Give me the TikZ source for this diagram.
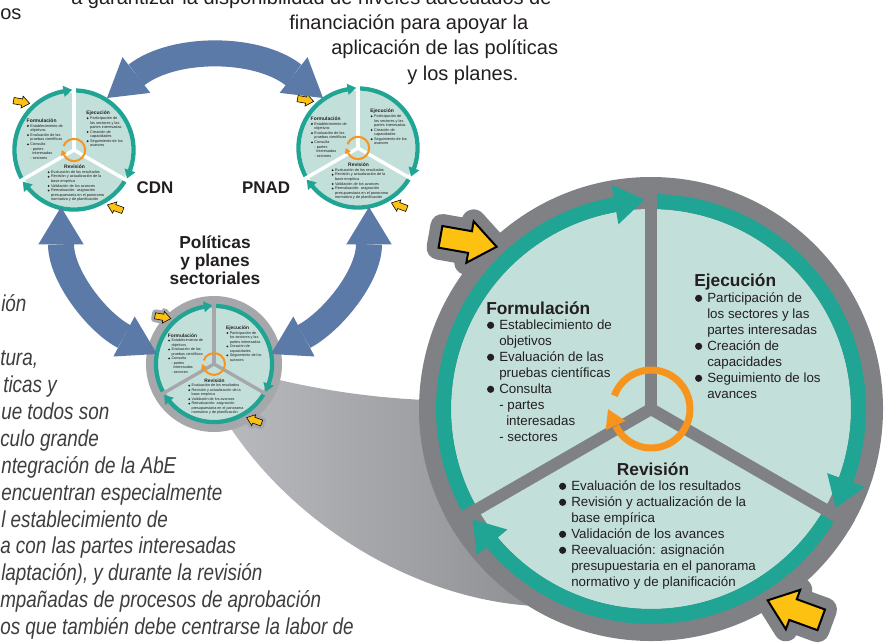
\documentclass[tikz,border=0pt]{standalone}
\usepackage{fontspec}
\setmainfont{Liberation Sans}
\newfontfamily\condit[FakeStretch=0.82]{Liberation Sans}
\usetikzlibrary{calc,arrows.meta}
\definecolor{tealA}{RGB}{32,164,148}
\definecolor{lfill}{RGB}{195,223,217}
\definecolor{grayA}{RGB}{128,129,133}
\definecolor{grayB}{RGB}{166,167,171}
\definecolor{coneL}{RGB}{186,187,191}
\definecolor{orng}{RGB}{247,148,29}
\definecolor{yel}{RGB}{253,193,18}
\definecolor{blu}{RGB}{92,122,168}
\definecolor{txtc}{RGB}{35,31,32}
\definecolor{itc}{RGB}{62,62,64}
\tikzset{
  wtxt/.style={inner sep=0pt, anchor=base west, text=txtc, font=\fontsize{10}{12}\selectfont},
  wttl/.style={wtxt, font=\bfseries\fontsize{13}{15}\selectfont},
  ital/.style={inner sep=0pt, anchor=base west, text=itc, font=\condit\itshape\fontsize{17.25}{20}\selectfont},
  toptxt/.style={inner sep=0pt, anchor=base west, text=txtc, font=\fontsize{15}{18}\selectfont},
  lbl/.style={inner sep=0pt, anchor=base, text=txtc, font=\bfseries\fontsize{13}{15}\selectfont},
  barrow/.style={draw=blu, line width=19.5pt,
    arrows={Triangle[width=34pt,length=28pt,line width=0pt]-Triangle[width=34pt,length=28pt,line width=0pt]}},
}
\newcommand\wtitle[4]{\node[wttl] (#1) at (#2,#3) {#4};}
\newcommand\wbul[4]{\fill[txtc] (#2+3.6,#3+4.2) circle (3.6);\node[wtxt] (#1) at (#2+12,#3) {#4};}
\newcommand\wcont[4]{\node[wtxt] (#1) at (#2+12,#3) {#4};}
\newcommand\wsub[4]{\node[wtxt] (#1) at (#2+19,#3) {#4};}
\tikzset{
 pics/wheel/.style n args={4}{code={
  \foreach \p/\r/\a in {137.5/247.5/-10,-54.5/247/160}
    \path[fill=#4, draw=#4, line width=24*#3, line join=round, shift={(\p:\r)}, rotate=\a]
      (-28.5,-11) -- (1.5,-11) -- (1.5,-21) -- (28.5,0) -- (1.5,21) -- (1.5,11) -- (-28.5,11) -- cycle;
  \fill[lfill] (0,0) circle (200);
  \draw[tealA, line width=15*#3] (208.3:207.5) arc[start angle=208.3, end angle=99, radius=207.5];
  \fill[tealA] (100:187.5) -- (100:227.5) -- ($(100:207.5)+(10:30)$) -- cycle;
  \draw[tealA, line width=15*#3] (88.3:207.5) arc[start angle=88.3, end angle=-21, radius=207.5];
  \fill[tealA] (-20:187.5) -- (-20:227.5) -- ($(-20:207.5)+(-110:30)$) -- cycle;
  \draw[tealA, line width=15*#3] (-31.7:207.5) arc[start angle=-31.7, end angle=-141, radius=207.5];
  \fill[tealA] (-140:187.5) -- (-140:227.5) -- ($(-140:207.5)+(130:30)$) -- cycle;
  \foreach \a in {90,210,330} \draw[#1, line width=12*#3] (0,0) -- (\a:#2);
  \draw[orng, line width=7*#3] (160:39) arc[start angle=160, end angle=-154, radius=39];
  \fill[orng] (205:28) -- (205:50) -- ($(205:39)+(115:18)$) -- cycle;
  % Formulacion
  \wtitle{ft}{-165}{95}{Formulación}
  \wbul{f1}{-164}{79.5}{Establecimiento de}
  \wcont{f2}{-164}{63.5}{objetivos}
  \wbul{f3}{-164}{47.5}{Evaluación de las}
  \wcont{f4}{-164}{31.5}{pruebas científicas}
  \wbul{f5}{-164}{15.5}{Consulta}
  \wcont{f6}{-164}{-0.5}{- partes}
  \wsub{f7}{-164}{-16.5}{interesadas}
  \wcont{f8}{-164}{-32.5}{- sectores}
  % Ejecucion
  \wtitle{et}{43}{123}{Ejecución}
  \wbul{e1}{44}{106.5}{Participación de}
  \wcont{e2}{44}{90.5}{los sectores y las}
  \wcont{e3}{44}{74.5}{partes interesadas}
  \wbul{e4}{44}{58.5}{Creación de}
  \wcont{e5}{44}{42.5}{capacidades}
  \wbul{e6}{44}{26.5}{Seguimiento de los}
  \wcont{e7}{44}{10.5}{avances}
  % Revision
  \node[wttl, anchor=base] (rt) at (2,-66) {Revisión};
  \wbul{r1}{-92}{-81.5}{Evaluación de los resultados}
  \wbul{r2}{-92}{-97.5}{Revisión y actualización de la}
  \wcont{r3}{-92}{-113.5}{base empírica}
  \wbul{r4}{-92}{-129.5}{Validación de los avances}
  \wbul{r5}{-92}{-145.5}{Reevaluación: asignación}
  \wcont{r6}{-92}{-161.5}{presupuestaria en el panorama}
  \wcont{r7}{-92}{-177.5}{normativo y de planificación}
  \foreach \p/\r/\a in {137.5/247.5/-10,-54.5/247/160}
    \filldraw[fill=yel, draw=black, line width=2*#3, line join=miter, shift={(\p:\r)}, rotate=\a]
      (-28.5,-11) -- (1.5,-11) -- (1.5,-21) -- (28.5,0) -- (1.5,21) -- (1.5,11) -- (-28.5,11) -- cycle;
 }}
}
\begin{document}
\begin{tikzpicture}[x=0.75pt,y=0.75pt]
\useasboundingbox (0,0) rectangle (891,-642);
\fill[white] (0,0) rectangle (891,-642);
% grey cone
\path[left color=coneL, right color=grayA]
  (275,-379) .. controls (330,-392) and (380,-398) .. (425,-400) -- (651,-409) -- (535,-606)
  .. controls (420,-600) and (300,-530) .. (232,-430) -- (214,-364) -- cycle;
\fill[grayA] (651,-409) circle (232);
\fill[grayB] (214,-364) circle (68);
% wheels
\pic (big) at (651,-409) {wheel={grayA}{232}{0.75pt}{grayA}};
\pic[scale=0.28, transform shape] (pol) at (214,-364) {wheel={grayB}{232}{0.21pt}{grayB}};
\pic[scale=0.287, transform shape] (cdn) at (74,-150) {wheel={white}{218}{0.215pt}{none}};
\pic[scale=0.287, transform shape] (pnad) at (358,-148) {wheel={white}{218}{0.215pt}{none}};
% blue arrows
\coordinate (ta) at (107,-98);
\coordinate (tb) at (323,-98);
\coordinate (la) at (61,-207);
\coordinate (lb) at (157,-354);
\coordinate (ra) at (369,-207);
\coordinate (rb) at (271,-354);
\draw[barrow] (ta) to[out=38,in=142] (tb);
\draw[barrow] (la) to[out=-90,in=152] (lb);
\draw[barrow] (ra) to[out=-90,in=28] (rb);
% labels
\node[lbl, font=\bfseries\fontsize{12.7}{15}\selectfont] (cdnl) at (155,-193) {CDN};
\node[lbl, font=\bfseries\fontsize{12.7}{15}\selectfont] (pnadl) at (266,-193) {PNAD};
\node[lbl] (pol1) at (215,-248) {Políticas};
\node[lbl] (pol2) at (215,-266) {y planes};
\node[lbl] (pol3) at (215,-284) {sectoriales};
% top text
\node[toptxt] (t0) at (0,-20) {os};
\node[toptxt] (t1) at (71,-4.5) {a garantizar la disponibilidad de niveles adecuados de};
\node[toptxt] (t2) at (289,-30) {financiación para apoyar la};
\node[toptxt] (t3) at (331,-55) {aplicación de las políticas};
\node[toptxt] (t4) at (407,-80) {y los planes.};
% left italic text
\node[ital] (l1) at (1,-311) {ión};
\node[ital] (l2) at (0,-365) {tura,};
\node[ital] (l3) at (3,-392) {ticas y};
\node[ital] (l4) at (1,-419) {ue todos son};
\node[ital] (l5) at (0,-446) {culo grande};
\node[ital] (l6) at (1,-473) {ntegración de la AbE};
\node[ital] (l7) at (1,-500) {encuentran especialmente};
\node[ital] (l8) at (1,-527) {l establecimiento de};
\node[ital] (l9) at (0,-553) {a con las partes interesadas};
\node[ital] (l10) at (1,-580) {laptación), y durante la revisión};
\node[ital] (l11) at (0,-607) {mpañadas de procesos de aprobación};
\node[ital] (l12) at (0,-634) {os que también debe centrarse la labor de};
\end{tikzpicture}
\end{document}
